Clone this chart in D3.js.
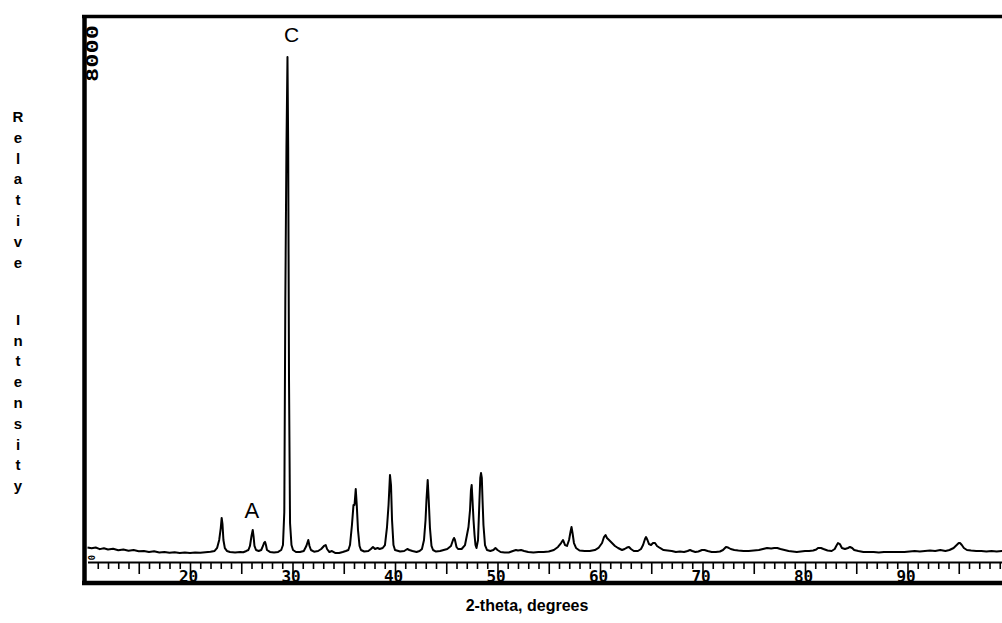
<!DOCTYPE html>
<html>
<head>
<meta charset="utf-8">
<script src="https://cdn.jsdelivr.net/npm/d3@7"></script>
<style>
  html, body { margin: 0; padding: 0; background: #fff; }
  svg { display: block; }
</style>
</head>
<body>
<svg id="chart" width="1002" height="623"></svg>
<script>
// Diffraction scan: 2-theta position (degrees) and detector counts
const twoTheta = [
  10.0, 10.4, 10.8, 11.2, 11.6, 12.0, 12.5, 13.0, 13.5, 14.0, 14.5, 15.0, 15.5, 16.0, 16.5, 17.0,
  17.5, 18.0, 18.5, 19.0, 19.5, 20.0, 20.5, 21.0, 21.5, 22.0, 22.4, 22.65, 22.85, 23.0, 23.09, 23.17,
  23.26, 23.4, 23.6, 23.9, 24.4, 24.9, 25.2, 25.5, 25.7, 25.85, 26.0, 26.12, 26.2, 26.29, 26.44, 26.7,
  26.95, 27.12, 27.22, 27.32, 27.41, 27.51, 27.8, 28.2, 28.6, 28.9, 29.07, 29.2, 29.3, 29.41, 29.51, 29.58,
  29.66, 29.76, 29.9, 30.05, 30.34, 30.73, 31.1, 31.35, 31.54, 31.66, 31.8, 32.1, 32.5, 32.8, 33.07, 33.24,
  33.37, 33.6, 33.85, 34.2, 34.55, 34.9, 35.2, 35.45, 35.61, 35.8, 35.95, 36.05, 36.17, 36.27, 36.39, 36.54,
  36.68, 37.0, 37.4, 37.65, 37.85, 38.05, 38.3, 38.5, 38.8, 39.02, 39.22, 39.37, 39.51, 39.61, 39.71, 39.85,
  40.0, 40.5, 40.9, 41.2, 41.4, 41.7, 42.1, 42.4, 42.63, 42.83, 42.98, 43.07, 43.19, 43.29, 43.41, 43.56,
  43.71, 44.0, 44.4, 44.75, 45.1, 45.46, 45.66, 45.76, 45.85, 46.0, 46.15, 46.5, 46.83, 47.02, 47.17, 47.32,
  47.41, 47.48, 47.56, 47.66, 47.76, 47.85, 47.95, 48.1, 48.24, 48.32, 48.39, 48.47, 48.54, 48.63, 48.78, 48.98,
  49.3, 49.6, 49.8, 50.0, 50.3, 50.7, 51.1, 51.5, 51.8, 52.0, 52.3, 52.6, 53.0, 53.5, 54.0, 54.5,
  55.0, 55.5, 55.9, 56.2, 56.39, 56.59, 56.78, 56.98, 57.12, 57.22, 57.32, 57.46, 57.66, 58.0, 58.5, 59.0,
  59.5, 59.85, 60.2, 60.39, 60.54, 60.68, 60.88, 61.17, 61.46, 61.76, 62.15, 62.4, 62.63, 62.83, 63.02, 63.3,
  63.7, 64.0, 64.2, 64.39, 64.49, 64.63, 64.78, 64.98, 65.17, 65.37, 65.56, 65.85, 66.2, 66.6, 67.0, 67.4,
  67.8, 68.2, 68.55, 68.78, 69.0, 69.3, 69.6, 69.95, 70.2, 70.5, 70.9, 71.3, 71.7, 72.0, 72.29, 72.5,
  72.75, 73.1, 73.5, 74.0, 74.5, 75.0, 75.5, 75.9, 76.3, 76.7, 77.0, 77.3, 77.6, 78.0, 78.4, 78.8,
  79.2, 79.6, 80.0, 80.4, 80.8, 81.1, 81.27, 81.56, 81.8, 82.2, 82.6, 82.9, 83.05, 83.22, 83.4, 83.6,
  83.9, 84.2, 84.39, 84.6, 84.8, 85.2, 85.7, 86.2, 86.7, 87.2, 87.7, 88.2, 88.7, 89.2, 89.7, 90.2,
  90.7, 91.2, 91.7, 92.2, 92.7, 93.2, 93.7, 94.1, 94.5, 94.8, 95.0, 95.12, 95.3, 95.5, 95.8, 96.2,
  96.7, 97.2, 97.7, 98.2, 98.7, 99.2, 99.6
];
const counts = [
  150, 138, 150, 125, 140, 118, 130, 108, 120, 100, 110, 90, 96, 80, 90, 72,
  80, 66, 74, 62, 70, 64, 72, 66, 76, 82, 96, 145, 270, 460, 620, 520,
  270, 140, 96, 80, 70, 80, 76, 96, 111, 175, 333, 429, 333, 175, 111, 96,
  111, 175, 222, 240, 190, 111, 80, 70, 80, 111, 190, 714, 4079, 6508, 7937, 6508,
  2810, 540, 190, 111, 79, 79, 95, 175, 270, 175, 111, 85, 95, 127, 175, 190,
  127, 79, 95, 63, 63, 79, 95, 111, 190, 508, 825, 825, 1079, 825, 429, 175,
  111, 87, 95, 127, 159, 127, 143, 127, 143, 190, 476, 825, 1302, 1143, 587, 190,
  111, 87, 95, 127, 111, 95, 79, 95, 127, 270, 587, 905, 1222, 905, 460, 175,
  111, 87, 95, 111, 127, 175, 270, 302, 270, 159, 127, 127, 190, 349, 476, 746,
  1063, 1143, 905, 587, 349, 190, 143, 270, 905, 1254, 1333, 1254, 905, 508, 190, 111,
  95, 111, 143, 111, 79, 71, 71, 95, 111, 103, 111, 95, 79, 71, 79, 79,
  87, 111, 159, 222, 270, 190, 175, 270, 397, 476, 381, 222, 143, 103, 95, 95,
  111, 143, 222, 317, 349, 302, 270, 222, 175, 143, 111, 127, 150, 159, 127, 95,
  95, 127, 190, 286, 317, 270, 206, 190, 222, 222, 175, 143, 111, 103, 95, 79,
  87, 79, 95, 111, 95, 79, 87, 111, 111, 95, 79, 79, 87, 111, 159, 150,
  127, 111, 103, 95, 95, 103, 111, 127, 143, 135, 143, 143, 127, 111, 95, 87,
  79, 87, 95, 95, 103, 119, 143, 143, 127, 103, 95, 127, 175, 222, 206, 143,
  127, 143, 159, 143, 111, 95, 79, 79, 79, 71, 79, 79, 79, 79, 79, 87,
  95, 87, 95, 103, 95, 111, 95, 111, 143, 190, 222, 222, 190, 143, 111, 103,
  95, 95, 87, 95, 87, 95, 90
];

// Axis tick values and labels
const xMinorTicks = d3.range(11, 100);
const yTickValues = [0, 8000];
const peakLabels = ["C", "A"];
const peakLabelAt = [29.51, 26.12];
const yTitle = "Relative Intensity";
const xTitle = "2-theta, degrees";

const svg = d3.select("#chart");
svg.append("rect").attr("width", 1002).attr("height", 623).attr("fill", "#fff");

const x = d3.scaleLinear().domain([10, 100]).range([87.5, 1010]);
const y = d3.scaleLinear().domain([0, 8000]).range([557, 53]);

const data = twoTheta.map((t, i) => ({ t, c: counts[i] }));

// Frame: top rule, left rule, bottom bar
svg.append("line").attr("x1", 82).attr("x2", 1002).attr("y1", 16.5).attr("y2", 16.5)
  .attr("stroke", "#000").attr("stroke-width", 3.5);
svg.append("line").attr("x1", 84.5).attr("x2", 84.5).attr("y1", 15).attr("y2", 585)
  .attr("stroke", "#000").attr("stroke-width", 4.5);
svg.append("line").attr("x1", 82).attr("x2", 1002).attr("y1", 583).attr("y2", 583)
  .attr("stroke", "#000").attr("stroke-width", 4.5);

// Bottom scale strip
const xAxis = d3.axisBottom(x)
  .tickValues(xMinorTicks)
  .tickSize(7)
  .tickSizeOuter(0)
  .tickFormat(d => d % 10 === 0 ? d : "");
const gx = svg.append("g").attr("transform", "translate(0,562)").call(xAxis);
gx.select(".domain").attr("stroke-width", 2.2);
gx.selectAll(".tick line")
  .attr("y2", d => d % 5 === 0 ? 12 : 7)
  .attr("stroke-width", 1.6);
gx.selectAll(".tick text")
  .attr("y", 20).attr("dy", 0).attr("dx", -2)
  .attr("font-family", "'DejaVu Sans Mono', monospace")
  .attr("font-weight", "bold")
  .attr("font-size", 16)
  .attr("fill", "#000");

// Intensity labels inside the frame, rotated about their tick positions
const yAxis = d3.axisRight(y).tickValues(yTickValues).tickSize(0)
  .tickFormat(d3.format("d"));
const gy = svg.append("g").attr("transform", "translate(88,0)").call(yAxis);
gy.select(".domain").remove();
gy.selectAll(".tick text")
  .attr("x", 0).attr("dy", 0)
  .attr("transform", "rotate(-90)")
  .attr("text-anchor", "middle")
  .attr("font-family", "'DejaVu Sans Mono', monospace")
  .attr("font-weight", "bold")
  .attr("fill", "#000")
  .each(function (d) {
    const s = d3.select(this);
    if (d === 0) {
      s.attr("font-size", 9).attr("y", 7);
    } else {
      s.attr("font-size", 16).attr("y", 10)
        .attr("textLength", 57).attr("lengthAdjust", "spacingAndGlyphs");
    }
  });

// Scan trace
const line = d3.line().x(d => x(d.t)).y(d => y(d.c));
svg.append("path").datum(data)
  .attr("d", line)
  .attr("fill", "none")
  .attr("stroke", "#000")
  .attr("stroke-width", 2)
  .attr("stroke-linejoin", "round");

// Phase markers above peaks
const labelY = [42, 518];
const labelSize = [21, 22];
peakLabels.forEach((lab, i) => {
  svg.append("text")
    .attr("x", x(peakLabelAt[i]) + (i === 0 ? 4 : -1))
    .attr("y", labelY[i])
    .attr("text-anchor", "middle")
    .attr("font-family", "'Liberation Sans', Arial, sans-serif")
    .attr("font-size", labelSize[i])
    .attr("fill", "#000")
    .text(lab);
});

// Axis titles
svg.append("text")
  .attr("x", 527).attr("y", 611)
  .attr("text-anchor", "middle")
  .attr("font-family", "'Liberation Sans', Arial, sans-serif")
  .attr("font-weight", "bold")
  .attr("font-size", 16)
  .attr("fill", "#000")
  .text(xTitle);

// Vertical title: one character per row
const chars = yTitle.split("");
let row = 0;
const ty = svg.append("text")
  .attr("font-family", "'Liberation Sans', Arial, sans-serif")
  .attr("font-weight", "bold")
  .attr("font-size", 15)
  .attr("fill", "#000")
  .attr("text-anchor", "middle");
chars.forEach(ch => {
  if (ch === " ") { row += 1.75; return; }
  ty.append("tspan").attr("x", 18).attr("y", 122 + row * 20.8).text(ch);
  row += 1;
});
</script>
</body>
</html>
